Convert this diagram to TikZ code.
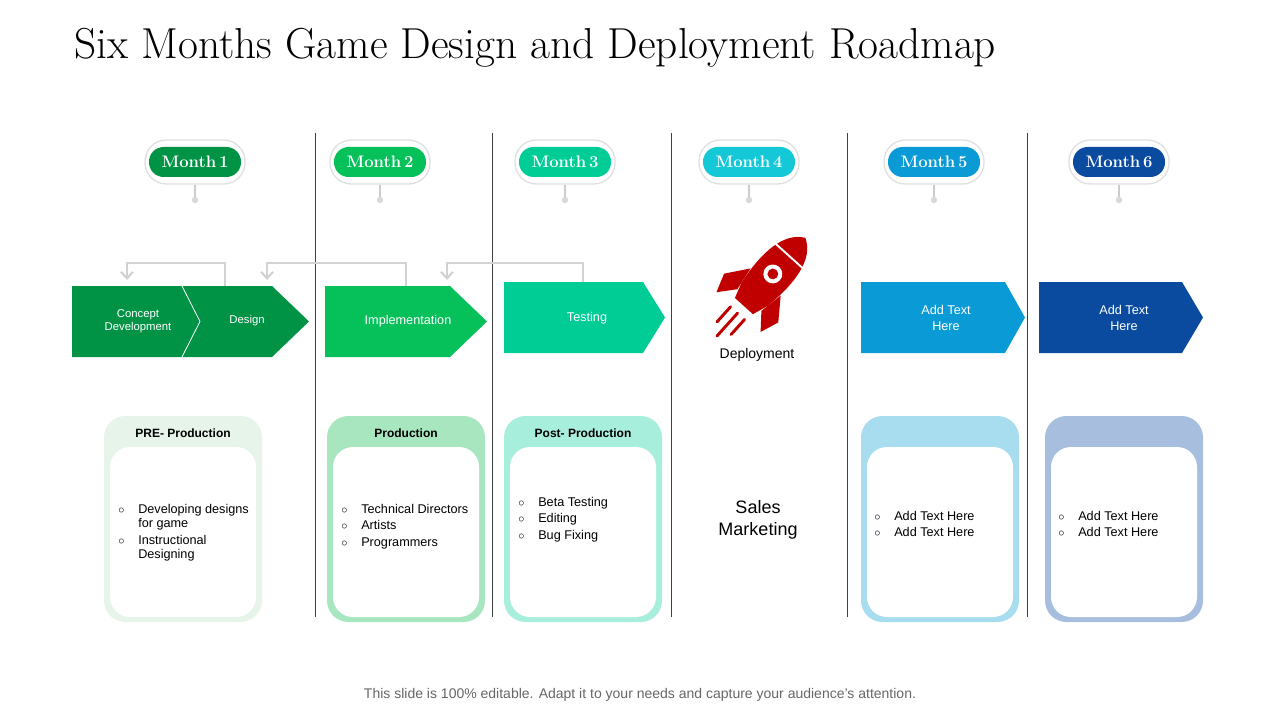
\documentclass[tikz,border=0pt]{standalone}
\usepackage{fontspec}
\setsansfont{Liberation Sans}
\usetikzlibrary{arrows.meta}
\definecolor{cA}{RGB}{0,146,69}
\definecolor{cB}{RGB}{6,192,90}
\definecolor{cC}{RGB}{0,204,150}
\definecolor{cD}{RGB}{20,200,216}
\definecolor{cE}{RGB}{10,155,214}
\definecolor{cF}{RGB}{10,75,160}
\definecolor{kA}{RGB}{230,244,234}
\definecolor{kB}{RGB}{168,230,192}
\definecolor{kC}{RGB}{168,238,221}
\definecolor{kE}{RGB}{168,221,240}
\definecolor{kF}{RGB}{168,190,223}
\definecolor{rk}{RGB}{192,0,0}
\definecolor{lg}{RGB}{210,210,210}
\tikzset{
  monthpill/.style={rounded corners=11pt, minimum width=69pt, minimum height=22.5pt, text=white, font=\bfseries\fontsize{12.5}{13}\selectfont, inner sep=0pt},
  chevtext/.style={text=white, font=\sffamily\fontsize{8.5}{10}\selectfont, align=center},
  itemtext/.style={font=\sffamily\fontsize{9.5}{10.5}\selectfont, anchor=north west, inner sep=0pt},
  headtext/.style={font=\sffamily\bfseries\fontsize{9}{10}\selectfont, inner sep=0pt},
  conn/.style={lg, line width=2.2pt, -{Straight Barb[length=5pt,width=9pt,line width=1.6pt]}},
  vline/.style={black!75, line width=0.6pt}
}
\newcommand{\bl}{\makebox[15pt][l]{$\circ$}}
\begin{document}
\begin{tikzpicture}[x=0.75pt,y=-0.75pt]
\useasboundingbox (0,0) rectangle (1280,720);
\node[anchor=west, font=\fontsize{32.5}{36}\selectfont, inner sep=0pt] (title) at (74,48) {Six Months Game Design and Deployment Roadmap};
% vertical lines
\foreach \x [count=\i] in {315,492,671,847,1027} {
  \coordinate (vt\i) at (\x,133); \coordinate (vb\i) at (\x,617);
  \draw[vline] (vt\i) -- (vb\i);
}
% month pills
\foreach \x/\c/\n in {195/cA/1,380/cB/2,565/cC/3,749/cD/4,934/cE/5,1119/cF/6} {
  \node[draw=black!12, line width=1pt, fill=white, rounded corners=16pt, minimum width=75pt, minimum height=33pt] (mo\n) at (\x,162) {};
  \node[monthpill, fill=\c] (m\n) at (\x,162) {Month\,\n};
  \coordinate (dot\n) at (\x,200);
  \draw[black!20, line width=0.8pt] (mo\n.south) -- (dot\n);
  \fill[black!15] (dot\n) circle (3.2);
}
% chevrons
\fill[cA] (72,286) -- (272,286) -- (309,321.5) -- (272,357) -- (72,357) -- cycle;
\draw[white, line width=0.6pt] (182,286) -- (200,321.5) -- (182,357);
\node[chevtext] (cd) at (138,321) {Concept\\Development};
\node[chevtext] (ds) at (247,321) {Design};
\fill[cB] (325,286) -- (450,286) -- (487,321.5) -- (450,357) -- (325,357) -- cycle;
\node[chevtext, font=\sffamily\fontsize{9.5}{11}\selectfont] (im) at (408,321) {Implementation};
\fill[cC] (504,282) -- (643,282) -- (665,317.5) -- (643,353) -- (504,353) -- cycle;
\node[chevtext, font=\sffamily\fontsize{9.5}{11}\selectfont] (ts) at (587,318) {Testing};
\fill[cE] (861,282) -- (1005,282) -- (1025,317.5) -- (1005,353) -- (861,353) -- cycle;
\node[chevtext, font=\sffamily\fontsize{9.5}{12}\selectfont] (a5) at (946,318) {Add Text\\Here};
\fill[cF] (1039,282) -- (1182,282) -- (1203,317.5) -- (1182,353) -- (1039,353) -- cycle;
\node[chevtext, font=\sffamily\fontsize{9.5}{12}\selectfont] (a6) at (1124,318) {Add Text\\Here};
% connectors
\coordinate (s1) at (225,286); \coordinate (e1) at (127,280);
\coordinate (s2) at (406,286); \coordinate (e2) at (267,280);
\coordinate (s3) at (583,282); \coordinate (e3) at (447,280);
\draw[conn] (s1) |- (176,263) -| (e1);
\draw[conn] (s2) |- (337,263) -| (e2);
\draw[conn] (s3) |- (515,263) -| (e3);
% rocket
\begin{scope}[shift={(762,286)}, yscale=-1]
\begin{scope}[rotate=42, scale=1.35]
 \fill[rk] (0,48) .. controls (15,40) and (17,18) .. (13,-8) -- (9,-20) -- (-9,-20) -- (-13,-8) .. controls (-17,18) and (-15,40) .. (0,48) -- cycle;
 \draw[white, line width=1.4pt] (-14,30) -- (14,30);
 \fill[white] (0,12) circle (7);
 \fill[rk] (0,12) circle (4);
 \fill[rk] (-15,4) -- (-27,-12) -- (-22,-26) -- (-12,-14) -- cycle;
 \fill[rk] (15,4) -- (27,-12) -- (22,-26) -- (12,-14) -- cycle;
 \draw[rk, line width=2.2pt, line cap=round] (-7,-27) -- (-7,-42);
 \draw[rk, line width=2.2pt, line cap=round] (0,-27) -- (0,-50);
 \draw[rk, line width=2.2pt, line cap=round] (7,-27) -- (7,-42);
\end{scope}
\end{scope}
\node[font=\sffamily\fontsize{10.5}{12}\selectfont] (dep) at (757,355) {Deployment};
\node[font=\sffamily\fontsize{13.5}{17}\selectfont, align=center] (sm) at (758,520) {Sales\\Marketing};
% cards
\foreach \x/\c/\n/\h in {104/kA/1/{PRE- Production},327/kB/2/{Production},504/kC/3/{Post- Production},861/kE/5/,1045/kF/6/} {
  \fill[\c, rounded corners=16pt] (\x,416) rectangle ++(158,206);
  \fill[white, rounded corners=15pt] (\x+6,447) rectangle ++(146,170);
  \node[headtext] (h\n) at (\x+79,433) {\h};
}
\node[itemtext] (t1) at (118,503) {\begin{tabular}{@{}l@{}l@{}}\bl&Developing designs\\ &for game\\[2.5pt] \bl&Instructional\\ &Designing\end{tabular}};
\node[itemtext] (t2) at (341,503) {\begin{tabular}{@{}l@{}l@{}}\bl&Technical Directors\\[2pt] \bl&Artists\\[2pt] \bl&Programmers\end{tabular}};
\node[itemtext] (t3) at (518,496) {\begin{tabular}{@{}l@{}l@{}}\bl&Beta Testing\\[2pt] \bl&Editing\\[2pt] \bl&Bug Fixing\end{tabular}};
\node[itemtext] (t5) at (874,510) {\begin{tabular}{@{}l@{}l@{}}\bl&Add Text Here\\[2pt] \bl&Add Text Here\end{tabular}};
\node[itemtext] (t6) at (1058,510) {\begin{tabular}{@{}l@{}l@{}}\bl&Add Text Here\\[2pt] \bl&Add Text Here\end{tabular}};
\node[font=\sffamily\fontsize{10.5}{12}\selectfont, text=black!60] (foot) at (640,695) {This slide is 100\% editable. Adapt it to your needs and capture your audience's attention.};
\end{tikzpicture}
\end{document}
